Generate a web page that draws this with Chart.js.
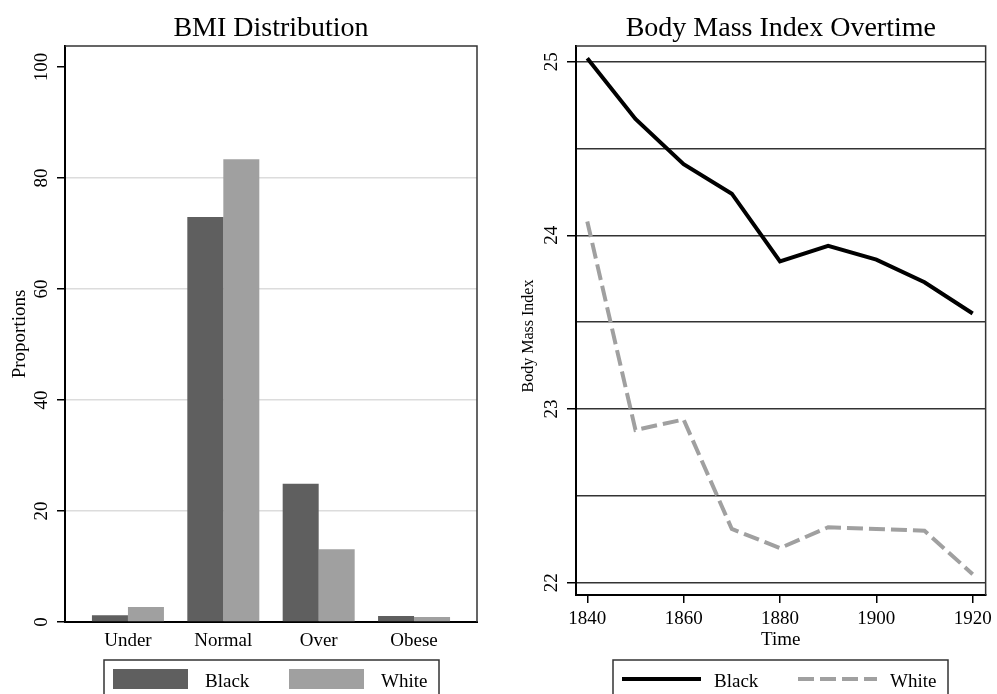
<!DOCTYPE html>
<html>
<head>
<meta charset="utf-8">
<title>BMI Distribution / Body Mass Index Overtime</title>
<script src="https://cdn.jsdelivr.net/npm/chart.js@4.4.1/dist/chart.umd.min.js"></script>
<style>
  html, body { margin: 0; padding: 0; background: #fff; }
  #left { position: absolute; left: 0; top: 0; }
  #right { position: absolute; left: 498px; top: 0; }
</style>
</head>
<body>
<canvas id="left" width="498" height="694"></canvas>
<canvas id="right" width="499" height="694"></canvas>
<script>
// bar chart (proportions, %)
const categories = ["Under", "Normal", "Over", "Obese"];
const blackShare = [1.2, 73.0, 24.9, 1.1];
const whiteShare = [2.7, 83.4, 13.1, 0.9];
const shareTicks = [0, 20, 40, 60, 80, 100];

// line chart (BMI by year)
const years = [1840, 1850, 1860, 1870, 1880, 1890, 1900, 1910, 1920];
const blackBmi = [25.02, 24.67, 24.41, 24.24, 23.85, 23.94, 23.86, 23.73, 23.55];
const whiteBmi = [24.08, 22.88, 22.94, 22.31, 22.20, 22.32, 22.31, 22.30, 22.05];
const yearTicks = [1840, 1860, 1880, 1900, 1920];
const bmiTicks = [22, 22.5, 23, 23.5, 24, 24.5, 25];

const SERIF = "'Liberation Serif', 'Times New Roman', serif";

// frame, title, rotated y labels and the boxed legend
function decor(cfg) {
    return {
        id: "decor",
        afterDraw(chart) {
            const ctx = chart.ctx;
            const a = chart.chartArea;
            const y = chart.scales.y;
            ctx.save();

            ctx.strokeStyle = "#333";
            ctx.lineWidth = 1.5;
            ctx.beginPath();
            ctx.moveTo(a.left, a.top);
            ctx.lineTo(a.right, a.top);
            ctx.lineTo(a.right, a.bottom);
            ctx.stroke();

            ctx.fillStyle = "#000";
            ctx.font = "28px " + SERIF;
            ctx.textAlign = "center";
            ctx.textBaseline = "alphabetic";
            ctx.fillText(cfg.title, (a.left + a.right) / 2, 36);

            ctx.font = "19px " + SERIF;
            ctx.textBaseline = "middle";
            y.ticks.forEach(t => {
                if (!cfg.showTick(t.value)) return;
                ctx.save();
                ctx.translate(cfg.tickX, y.getPixelForValue(t.value));
                ctx.rotate(-Math.PI / 2);
                ctx.fillText(String(t.value), 0, 0);
                ctx.restore();
            });

            ctx.font = cfg.yTitleSize + "px " + SERIF;
            ctx.save();
            ctx.translate(cfg.yTitleX, cfg.yTitleY || (a.top + a.bottom) / 2);
            ctx.rotate(-Math.PI / 2);
            ctx.fillText(cfg.yTitle, 0, 0);
            ctx.restore();

            // legend
            const bx = Math.round((a.left + a.right) / 2 - 167.5);
            ctx.strokeStyle = "#333";
            ctx.lineWidth = 1.5;
            ctx.strokeRect(bx, 660, 335, 60);
            chart.data.datasets.forEach((ds, i) => {
                const sx = bx + 9 + i * 176;
                if (chart.config.type === "bar") {
                    ctx.fillStyle = ds.backgroundColor;
                    ctx.fillRect(sx, 669, 75, 20);
                } else {
                    ctx.strokeStyle = ds.borderColor;
                    ctx.lineWidth = ds.borderWidth;
                    ctx.setLineDash(ds.borderDash || []);
                    ctx.beginPath();
                    ctx.moveTo(sx, 679);
                    ctx.lineTo(sx + 79, 679);
                    ctx.stroke();
                    ctx.setLineDash([]);
                }
                ctx.fillStyle = "#000";
                ctx.font = "19px " + SERIF;
                ctx.textAlign = "left";
                ctx.textBaseline = "alphabetic";
                ctx.fillText(ds.label, sx + 92, 687);
            });
            ctx.restore();
        }
    };
}

const tickFont = { family: SERIF, size: 19 };

new Chart(document.getElementById("left"), {
    type: "bar",
    data: {
        datasets: [
            { label: "Black", data: blackShare.map((v, i) => ({ x: i, y: v })), backgroundColor: "#5f5f5f",
              borderWidth: 0, categoryPercentage: 0.755, barPercentage: 1 },
            { label: "White", data: whiteShare.map((v, i) => ({ x: i, y: v })), backgroundColor: "#a0a0a0",
              borderWidth: 0, categoryPercentage: 0.755, barPercentage: 1 }
        ]
    },
    options: {
        responsive: false,
        animation: false,
        devicePixelRatio: 1,
        layout: { padding: { top: 46, right: 21, bottom: 42, left: 0 } },
        plugins: { legend: { display: false }, tooltip: { enabled: false } },
        scales: {
            x: {
                type: "linear", offset: false, min: -0.66, max: 3.66,
                afterBuildTicks: s => { s.ticks = categories.map((c, i) => ({ value: i })); },
                afterFit: s => { s.height = 30; },
                grid: { display: false, drawTicks: false, offset: false },
                border: { display: true, color: "#000", width: 2 },
                ticks: { color: "#000", font: tickFont, padding: 8, maxRotation: 0, autoSkip: false,
                         callback: v => categories[v] || "" }
            },
            y: {
                min: 0, max: 103.8,
                afterBuildTicks: s => { s.ticks = shareTicks.map(v => ({ value: v })); },
                afterFit: s => { s.width = 65; },
                grid: {
                    color: c => (c.tick && (c.tick.value === 0 || c.tick.value === 100)) ? "rgba(0,0,0,0)" : "#dcdcdc",
                    lineWidth: 1.5, drawTicks: true, tickLength: 8, tickColor: "#000", tickWidth: 1.5
                },
                border: { color: "#000", width: 2 },
                ticks: { display: false }
            }
        }
    },
    plugins: [decor({ title: "BMI Distribution", tickX: 42, showTick: () => true,
                      yTitle: "Proportions", yTitleSize: 19, yTitleX: 20 })]
});

new Chart(document.getElementById("right"), {
    type: "line",
    data: {
        datasets: [
            { label: "Black", data: years.map((x, i) => ({ x: x, y: blackBmi[i] })), borderColor: "#000",
              borderWidth: 4, pointRadius: 0, tension: 0, borderJoinStyle: "miter" },
            { label: "White", data: years.map((x, i) => ({ x: x, y: whiteBmi[i] })), borderColor: "#a0a0a0",
              borderWidth: 4, borderDash: [16, 6], pointRadius: 0, tension: 0, borderJoinStyle: "miter" }
        ]
    },
    options: {
        responsive: false,
        animation: false,
        devicePixelRatio: 1,
        layout: { padding: { top: 46, right: 10, bottom: 43, left: 0 } },
        plugins: { legend: { display: false }, tooltip: { enabled: false } },
        scales: {
            x: {
                type: "linear", min: 1837.66, max: 1922.69,
                afterBuildTicks: s => { s.ticks = yearTicks.map(v => ({ value: v })); },
                afterFit: s => { s.height = 56; },
                grid: { drawOnChartArea: false, drawTicks: true, tickLength: 8, color: "#000", lineWidth: 1.5 },
                border: { color: "#000", width: 2 },
                ticks: { color: "#000", font: tickFont, padding: 5, maxRotation: 0, autoSkip: false,
                         callback: v => String(v) },
                title: { display: true, text: "Time", color: "#000", font: tickFont, padding: 0 }
            },
            y: {
                min: 21.93, max: 25.09,
                afterBuildTicks: s => { s.ticks = bmiTicks.map(v => ({ value: v })); },
                afterFit: s => { s.width = 78; },
                grid: {
                    color: "#333", lineWidth: 1.5, drawTicks: true, tickLength: 9,
                    tickColor: c => (c.tick && Number.isInteger(c.tick.value)) ? "#000" : "rgba(0,0,0,0)"
                },
                border: { color: "#000", width: 2 },
                ticks: { display: false }
            }
        }
    },
    plugins: [decor({ title: "Body Mass Index Overtime", tickX: 54.5, showTick: v => Number.isInteger(v),
                      yTitle: "Body Mass Index", yTitleSize: 16, yTitleX: 31, yTitleY: 336 })]
});
</script>
</body>
</html>
